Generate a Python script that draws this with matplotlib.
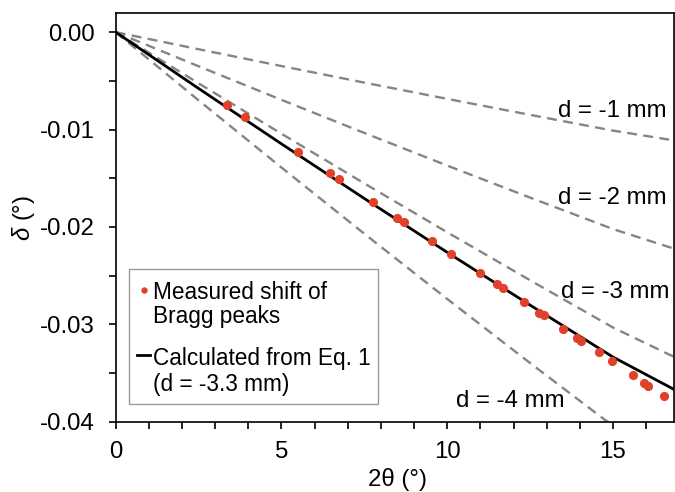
import matplotlib
matplotlib.use("Agg")
import matplotlib.pyplot as plt
from matplotlib.ticker import MultipleLocator, FormatStrFormatter
from matplotlib.patches import Rectangle
from matplotlib.lines import Line2D

plt.rcParams['font.family'] = ['Liberation Sans', 'DejaVu Sans']
plt.rcParams['mathtext.fontset'] = 'custom'
plt.rcParams['mathtext.it'] = 'Liberation Sans:italic'
plt.rcParams['mathtext.rm'] = 'Liberation Sans'

# measured shift of Bragg peaks
two_theta_meas = [3.37, 3.89, 5.49, 6.46, 6.73, 7.77, 8.47, 8.69, 9.53, 10.11,
                  11.00, 11.51, 11.68, 12.31, 12.76, 12.91, 13.49, 13.92, 14.04,
                  14.58, 14.97, 15.59, 15.94, 16.07, 16.55]
delta_meas = [-0.00752, -0.00869, -0.01235, -0.01447, -0.01509, -0.01748, -0.01906,
              -0.01953, -0.02142, -0.02276, -0.02477, -0.02590, -0.02628, -0.02775,
              -0.02882, -0.02905, -0.03046, -0.03138, -0.03169, -0.03288, -0.03378,
              -0.03521, -0.03606, -0.03631, -0.03733]

# curves
two_theta_curve = [0, 2.5, 5, 7.5, 10, 12.5, 15, 16.85]
delta_d1 = [0, -0.00175, -0.00348, -0.00518, -0.00685, -0.00849, -0.01011, -0.01112]
delta_d2 = [0, -0.00350, -0.00695, -0.01035, -0.01370, -0.01699, -0.02022, -0.02224]
delta_d3 = [0, -0.00525, -0.01043, -0.01553, -0.02055, -0.02548, -0.03033, -0.03336]
delta_d4 = [0, -0.00700, -0.01390, -0.02070, -0.02740, -0.03398, -0.04044, -0.04448]
delta_calc = [0, -0.00578, -0.01147, -0.01708, -0.02261, -0.02803, -0.03336, -0.03670]

curve_labels = ["d = -1 mm", "d = -2 mm", "d = -3 mm", "d = -4 mm"]
label_pos = [(13.35, -0.00873), (13.35, -0.01766), (13.42, -0.0273), (10.25, -0.03846)]

legend_lines_meas = ["Measured shift of", "Bragg peaks"]
legend_lines_calc = ["Calculated from Eq. 1", "(d = -3.3 mm)"]

FS = 17.3
LFS = 16.3
red = '#e0412b'
gray = '#858585'

fig = plt.figure(figsize=(6.75, 4.92), dpi=100)
ax = fig.add_axes([0.1714, 0.1429, 0.8276, 0.8313])

for dv in [delta_d1, delta_d2, delta_d3, delta_d4]:
    ax.plot(two_theta_curve, dv, ls=(0, (4.2, 2.7)), color=gray, lw=1.7, zorder=2)

ax.plot(two_theta_curve, delta_calc, color='black', lw=2.0, zorder=3)
ax.plot(two_theta_meas, delta_meas, 'o', color=red, ms=6.6, mec='none', zorder=4)

for txt, (x, y) in zip(curve_labels, label_pos):
    ax.text(x, y, txt, fontsize=FS, va='baseline', ha='left', zorder=5)

ax.set_xlim(0, 16.85)
ax.set_ylim(-0.04, 0.002)
ax.xaxis.set_major_locator(MultipleLocator(5))
ax.xaxis.set_minor_locator(MultipleLocator(1))
ax.yaxis.set_major_locator(MultipleLocator(0.01))
ax.yaxis.set_minor_locator(MultipleLocator(0.005))
ax.yaxis.set_major_formatter(FormatStrFormatter('%.2f'))
ax.tick_params(which='both', direction='out', length=5.2, width=1.2, labelsize=FS,
               top=False, right=False)
ax.tick_params(axis='y', pad=10)
ax.tick_params(axis='x', pad=9)
for s in ax.spines.values():
    s.set_linewidth(1.2)

ax.set_xlabel('2θ (°)', fontsize=FS)
ax.set_ylabel(r'$\mathit{\delta}$ (°)', fontsize=FS)
ax.xaxis.set_label_coords(0.504, -0.112)
ax.yaxis.set_label_coords(-0.141, 0.497)

# legend box (axes fraction coordinates)
tr = ax.transAxes
ax.add_patch(Rectangle((0.0243, 0.0433), 0.4452, 0.3293, transform=tr, facecolor='white',
                       edgecolor='#9a9a9a', lw=1.0, zorder=6, clip_on=False))
ax.add_line(Line2D([0.0506], [0.3215], transform=tr, marker='o', color=red, ms=4.6,
                   mec='none', zorder=7))
ax.add_line(Line2D([0.0386, 0.0613], [0.1624, 0.1624], transform=tr, color='black',
                   lw=2.0, zorder=7))
for txt, yb in zip(legend_lines_meas + legend_lines_calc, [0.2998, 0.2411, 0.1389, 0.0740]):
    ax.text(0.0667, yb, txt, transform=tr, fontsize=LFS, va='baseline', ha='left', zorder=7)

fig.savefig('out.png', dpi=100)
